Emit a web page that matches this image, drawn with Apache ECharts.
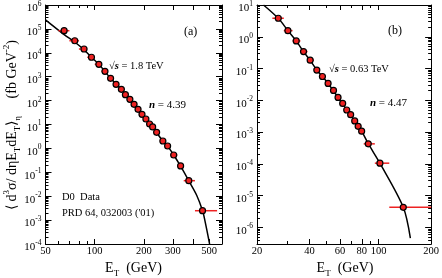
<!DOCTYPE html>
<html><head><meta charset="utf-8">
<script src="https://cdn.jsdelivr.net/npm/echarts@6/dist/echarts.min.js"></script>
<style>html,body{margin:0;padding:0;background:#fff}#c{width:442px;height:278px}</style>
</head><body><div id="c"></div>
<script>
// ---------- Panel (a): D0, sqrt(s) = 1.8 TeV ----------
const etA  = [65, 75.5, 86, 95.5, 106, 115.5, 125, 135, 145.5, 154, 164, 174, 184, 194.5, 205.5, 216.5, 226, 239, 261, 279, 304, 335, 376, 456];
const loA  = [60, 70, 80, 90, 100, 110, 120, 130, 140, 150, 160, 170, 180, 190, 200, 210, 220, 230, 250, 270, 290, 320, 350, 410];
const hiA  = [70, 80, 90, 100, 110, 120, 130, 140, 150, 160, 170, 180, 190, 200, 210, 220, 230, 250, 270, 290, 320, 350, 410, 560];
const valA = [8.4e4, 3.2e4, 1.44e4, 6.5e3, 3.3e3, 1.68e3, 857, 481, 297, 177, 113, 70, 43, 26.7, 17, 10.5, 7.9, 4.7, 2.04, 1.26, 0.53, 0.184, 0.0446, 0.00247];
const fitAx = [50, 65, 75, 86, 95.5, 106, 125, 145, 164, 184, 205, 226, 261, 280, 304, 335, 376, 420, 456, 471, 504];
const fitAy = [2.4e5, 5.8e4, 2.9e4, 1.35e4, 6.5e3, 3.3e3, 860, 300, 113, 43, 17, 7.9, 2.0, 1.2, 0.53, 0.18, 0.044, 0.011, 0.0025, 0.001, 1e-4];
const xLabA = [50, 100, 200, 300, 500];
const xMajA = [100, 200, 300, 400, 500];
const xMinA = [60, 70, 80, 90];

// ---------- Panel (b): D0, sqrt(s) = 0.63 TeV ----------
const etB  = [26.5, 30.1, 33.6, 37.0, 40.4, 44.1, 47.5, 51.2, 55.0, 58.4, 62.1, 65.5, 69.0, 72.8, 76.2, 79.8, 87.1, 101.6, 138.4];
const loB  = [24.5, 28.5, 32, 35.5, 39, 42.5, 46, 49.5, 53, 57, 60, 64, 67, 71, 74.5, 78, 82, 95, 115];
const hiB  = [28.5, 32, 35.5, 39, 42.5, 46, 49.5, 53, 57, 60, 64, 67, 71, 74.5, 78, 82, 95, 115, 200];
const valB = [3.83, 1.56, 0.741, 0.343, 0.184, 0.0894, 0.0562, 0.034, 0.0205, 0.0123, 0.008, 0.00496, 0.00353, 0.00224, 0.00152, 0.00107, 4.26e-4, 1.05e-4, 4.27e-6];
const fitBx = [21.8, 26.5, 30.1, 33.6, 37, 40.4, 44.1, 51.2, 58.4, 65.5, 72.8, 79.8, 87.1, 101.6, 138.4, 152];
const fitBy = [10, 3.8, 1.56, 0.74, 0.34, 0.18, 0.09, 0.034, 0.0123, 0.005, 0.00224, 0.00107, 4.3e-4, 1.05e-4, 4.3e-6, 4.6e-7];
const xLabB = [20, 40, 60, 80, 100, 200];
const xMajB = [20, 40, 60, 80, 100, 200];
const xMinB = [30, 50, 70, 90];

// y tick values (decades + 2..9 minors)
function decades(a, b) { const r = []; for (let k = a; k <= b; k++) r.push(Math.pow(10, k)); return r; }
function minors(a, b) { const r = []; for (let k = a; k < b; k++) for (let m = 2; m <= 9; m++) r.push(m * Math.pow(10, k)); return r; }
const yMajA = decades(-4, 6), yMinA = minors(-4, 6);
const yMajB = decades(-6, 1), yMinB = minors(-7, 1);

const FONT = '"Liberation Serif","Times New Roman",serif';
const BLACK = '#000';
const RED = '#ee2222';

function xAx(grid, min, max, maj, mnr, labs, pos, showLab, showLine, isMinor) {
  return {
    type: 'log', gridIndex: grid, min: min, max: max, position: pos,
    axisLine: { show: showLine, onZero: false, lineStyle: { color: BLACK, width: 1 } },
    axisTick: { show: true, inside: true, length: isMinor ? 3 : 5, customValues: isMinor ? mnr : maj, lineStyle: { color: BLACK, width: 1 } },
    axisLabel: showLab ? { show: true, customValues: labs, formatter: v => String(Math.round(v)), fontFamily: FONT, fontSize: 10.5, color: BLACK, margin: 2 } : { show: false },
    splitLine: { show: false }, minorTick: { show: false }
  };
}
function yAx(grid, min, max, maj, mnr, pos, showLab, showLine, isMinor) {
  return {
    type: 'log', gridIndex: grid, min: min, max: max, position: pos,
    axisLine: { show: showLine, onZero: false, lineStyle: { color: BLACK, width: 1 } },
    axisTick: { show: true, inside: true, length: isMinor ? 3 : 6, customValues: isMinor ? mnr : maj, lineStyle: { color: BLACK, width: 1 } },
    axisLabel: showLab ? {
      show: true, customValues: maj, margin: 4, padding: [4, 0, 0, 0],
      formatter: v => '{b|10}{s|' + Math.round(Math.log10(v)) + '}',
      rich: {
        b: { fontFamily: FONT, fontSize: 11, lineHeight: 14, verticalAlign: 'bottom', color: BLACK },
        s: { fontFamily: FONT, fontSize: 7.5, lineHeight: 8, verticalAlign: 'top', color: BLACK }
      }
    } : { show: false },
    splitLine: { show: false }, minorTick: { show: false }
  };
}

const xAxis = [
  xAx(0, 50, 600, xMajA, xMinA, xLabA, 'bottom', true, true, false),
  xAx(0, 50, 600, xMajA, xMinA, xLabA, 'bottom', false, false, true),
  xAx(0, 50, 600, xMajA, xMinA, xLabA, 'top', false, true, false),
  xAx(0, 50, 600, xMajA, xMinA, xLabA, 'top', false, false, true),
  xAx(1, 20, 200, xMajB, xMinB, xLabB, 'bottom', true, true, false),
  xAx(1, 20, 200, xMajB, xMinB, xLabB, 'bottom', false, false, true),
  xAx(1, 20, 200, xMajB, xMinB, xLabB, 'top', false, true, false),
  xAx(1, 20, 200, xMajB, xMinB, xLabB, 'top', false, false, true)
];
const yAxis = [
  yAx(0, 1e-4, 1e6, yMajA, yMinA, 'left', true, true, false),
  yAx(0, 1e-4, 1e6, yMajA, yMinA, 'left', false, false, true),
  yAx(0, 1e-4, 1e6, yMajA, yMinA, 'right', false, true, false),
  yAx(0, 1e-4, 1e6, yMajA, yMinA, 'right', false, false, true),
  yAx(1, 3e-7, 10, yMajB, yMinB, 'left', true, true, false),
  yAx(1, 3e-7, 10, yMajB, yMinB, 'left', false, false, true),
  yAx(1, 3e-7, 10, yMajB, yMinB, 'right', false, true, false),
  yAx(1, 3e-7, 10, yMajB, yMinB, 'right', false, false, true)
];

function errSeries(ax, lo, hi, val) {
  return {
    type: 'custom', xAxisIndex: ax, yAxisIndex: ax, z: 3, clip: true,
    encode: { x: [0, 1], y: 2 },
    data: lo.map((l, i) => [l, hi[i], val[i]]),
    renderItem: (params, api) => {
      const p1 = api.coord([api.value(0), api.value(2)]);
      const p2 = api.coord([api.value(1), api.value(2)]);
      return { type: 'line', shape: { x1: p1[0], y1: p1[1], x2: p2[0], y2: p2[1] }, style: { stroke: RED, lineWidth: 1.5 } };
    }
  };
}
function ptSeries(ax, xs, ys) {
  return {
    type: 'scatter', xAxisIndex: ax, yAxisIndex: ax, z: 4,
    data: xs.map((x, i) => [x, ys[i]]), symbol: 'circle', symbolSize: 6,
    itemStyle: { color: RED, borderColor: BLACK, borderWidth: 1.2, opacity: 1 }
  };
}
function fitSeries(ax, xs, ys) {
  return {
    type: 'line', xAxisIndex: ax, yAxisIndex: ax, z: 2, showSymbol: false, smooth: 0.3,
    data: xs.map((x, i) => [x, ys[i]]), lineStyle: { color: BLACK, width: 1.5 }, clip: true
  };
}

const m14 = { fontFamily: FONT, fontSize: 14, lineHeight: 20, verticalAlign: 'middle', fill: BLACK, color: BLACK };
const sub9 = { fontFamily: FONT, fontSize: 9, lineHeight: 9, verticalAlign: 'bottom', fill: BLACK, color: BLACK };
const sup9 = { fontFamily: FONT, fontSize: 9, lineHeight: 9, verticalAlign: 'top', fill: BLACK, color: BLACK };

function txt(x, y, text, size, extra) {
  return Object.assign({ type: 'text', x: x, y: y, z: 10,
    style: Object.assign({ text: text, fontFamily: FONT, fontSize: size, fill: BLACK, align: 'left', verticalAlign: 'middle' }, extra || {}) });
}
const nRich = { n: { fontFamily: FONT, fontSize: 11, fontWeight: 'bold', fontStyle: 'italic', fill: BLACK }, t: { fontFamily: FONT, fontSize: 11, fill: BLACK } };
const sRich = { i: { fontFamily: FONT, fontSize: 10.5, fontWeight: 'bold', fontStyle: 'italic', fill: BLACK }, t: { fontFamily: FONT, fontSize: 10.5, fill: BLACK } };

const graphic = [
  { type: 'text', x: 12, y: 125, rotation: Math.PI / 2, z: 10,
    style: { text: '{m|⟨ d}{p|3}{m|σ/ dηE}{b|T}{m|dE}{b|T}{m|⟩}{b|η}{m|     (fb GeV}{p|-2}{m|)}',
      align: 'center', verticalAlign: 'middle', rich: { m: m14, b: sub9, p: sup9 } } },
  { type: 'text', x: 133.5, y: 268, z: 10,
    style: { text: '{m|E}{b|T}{m|  (GeV)}', align: 'center', verticalAlign: 'middle', rich: { m: m14, b: sub9 } } },
  { type: 'text', x: 345, y: 268, z: 10,
    style: { text: '{m|E}{b|T}{m|  (GeV)}', align: 'center', verticalAlign: 'middle', rich: { m: m14, b: sub9 } } },
  txt(184, 32, '(a)', 12),
  txt(388, 31, '(b)', 12),
  txt(109, 66, '{t|√}{i|s}{t| = 1.8 TeV}', 10.5, { rich: sRich }),
  txt(329, 69, '{t|√}{i|s}{t| = 0.63 TeV}', 10.5, { rich: sRich }),
  txt(149, 105, '{n|n}{t| = 4.39}', 11, { rich: nRich }),
  txt(370, 103, '{n|n}{t| = 4.47}', 11, { rich: nRich }),
  txt(62, 197, 'D0  Data', 10.5),
  txt(62, 213, "PRD 64, 032003 ('01)", 10.5)
];

const chart = echarts.init(document.getElementById('c'), null, { renderer: 'canvas' });
chart.setOption({
  animation: false,
  backgroundColor: '#fff',
  grid: [
    { left: 45.5, top: 5, width: 176.5, height: 239 },
    { left: 257, top: 5, width: 174.7, height: 239 }
  ],
  xAxis: xAxis,
  yAxis: yAxis,
  series: [
    fitSeries(0, fitAx, fitAy), errSeries(0, loA, hiA, valA), ptSeries(0, etA, valA),
    fitSeries(4, fitBx, fitBy), errSeries(4, loB, hiB, valB), ptSeries(4, etB, valB)
  ],
  graphic: graphic
});
</script></body></html>
